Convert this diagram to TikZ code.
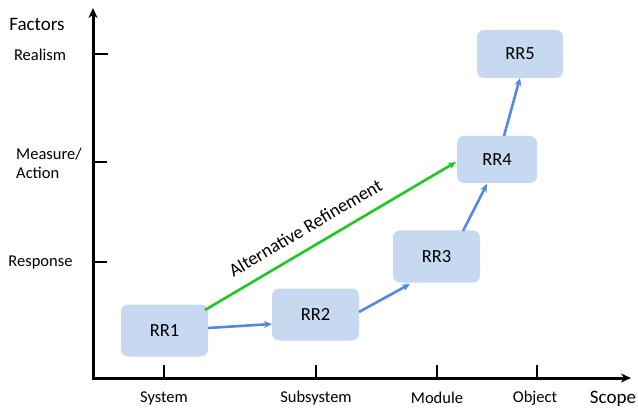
\documentclass[tikz,border=0pt]{standalone}
\usepackage{fontspec}
\setmainfont{Carlito}
\usetikzlibrary{arrows.meta}
\definecolor{boxfill}{HTML}{C6D9F1}
\definecolor{arrblue}{HTML}{5588E6}
\definecolor{arrgreen}{HTML}{1EC81E}
\tikzset{
  rrbox/.style={rectangle, rounded corners=7pt, fill=boxfill, minimum width=87pt, minimum height=52pt, font=\fontsize{18.5}{20}\selectfont, inner sep=0pt},
  bluearr/.style={draw=arrblue, line width=2.6pt, -{Stealth[length=8pt,width=7pt]}},
  greenarr/.style={draw=arrgreen, line width=2.6pt, -{Stealth[length=8pt,width=7pt]}},
  axis/.style={line width=3pt, -{Stealth[length=10pt,width=9pt]}},
  tick/.style={line width=2.5pt},
  lab/.style={font=\fontsize{16.5}{19}\selectfont, inner sep=0pt},
  biglab/.style={font=\fontsize{19}{22}\selectfont, inner sep=0pt}
}
\begin{document}
\begin{tikzpicture}[x=1pt,y=-1pt]
\useasboundingbox (0,0) rectangle (638,409);
% axes
\coordinate (ybase) at (93,379.5);
\coordinate (ytip) at (93,8);
\coordinate (xbase) at (91.5,378);
\coordinate (xtip) at (631,378);
\draw[axis] (ybase) -- (ytip);
\draw[axis] (xbase) -- (xtip);
% y ticks
\coordinate (ty1) at (93,54); \coordinate (ty1e) at (108,54);
\coordinate (ty2) at (93,162); \coordinate (ty2e) at (107,162);
\coordinate (ty3) at (93,262); \coordinate (ty3e) at (107,262);
\draw[tick] (ty1) -- (ty1e);
\draw[tick] (ty2) -- (ty2e);
\draw[tick] (ty3) -- (ty3e);
% x ticks
\coordinate (tx1) at (164,378); \coordinate (tx1e) at (164,365);
\coordinate (tx2) at (316,378); \coordinate (tx2e) at (316,365);
\coordinate (tx3) at (437,378); \coordinate (tx3e) at (437,365);
\coordinate (tx4) at (537,378); \coordinate (tx4e) at (537,365);
\draw[tick] (tx1) -- (tx1e);
\draw[tick] (tx2) -- (tx2e);
\draw[tick] (tx3) -- (tx3e);
\draw[tick] (tx4) -- (tx4e);
% axis labels
\node[biglab] (factors) at (37,24) {Factors};
\node[lab] (realism) at (40,55) {Realism};
\node[lab, align=left, anchor=west] (measure) at (16,163) {Measure/\\Action};
\node[lab] (response) at (40.5,263) {Response};
\node[lab] (system) at (164,398) {System};
\node[lab] (subsystem) at (316,398) {Subsystem};
\node[lab] (module) at (437,398) {Module};
\node[lab] (object) at (535,398) {Object};
\node[biglab] (scope) at (613,399) {Scope};
% boxes
\node[rrbox] (rr1) at (164.5,330.5) {RR1};
\node[rrbox] (rr2) at (315.5,314.5) {RR2};
\node[rrbox] (rr3) at (436.5,256.5) {RR3};
\node[rrbox, minimum width=80pt, minimum height=47pt] (rr4) at (497,159.5) {RR4};
\node[rrbox, minimum width=86pt, minimum height=48pt] (rr5) at (520,54) {RR5};
% arrow end points
\coordinate (a1s) at (208,328); \coordinate (a1e) at (272,324);
\coordinate (a2s) at (359,312); \coordinate (a2e) at (410,284);
\coordinate (a3s) at (463,231); \coordinate (a3e) at (487,184);
\coordinate (a4s) at (504,136); \coordinate (a4e) at (520,78);
\coordinate (gs) at (205,310); \coordinate (ge) at (456,162);
% arrows
\draw[bluearr] (a1s) -- (a1e);
\draw[bluearr] (a2s) -- (a2e);
\draw[bluearr] (a3s) -- (a3e);
\draw[bluearr] (a4s) -- (a4e);
\draw[greenarr] (gs) -- node[pos=0.44, above=12pt, sloped, inner sep=0pt, font=\fontsize{18.5}{20}\selectfont] (altlab) {Alternative Refinement} (ge);
\end{tikzpicture}
\end{document}
